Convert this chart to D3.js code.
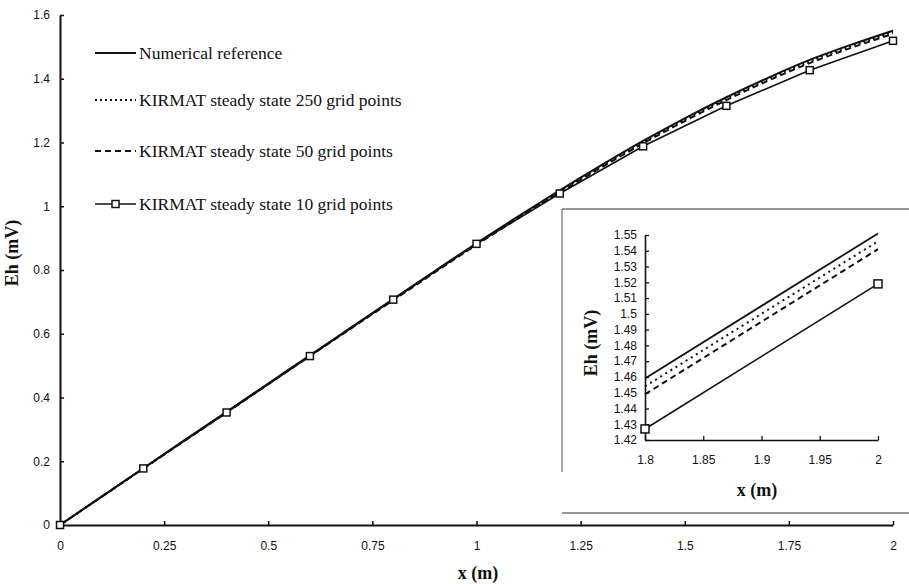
<!DOCTYPE html>
<html>
<head>
<meta charset="utf-8">
<script src="https://cdn.jsdelivr.net/npm/d3@7"></script>
<style>
body { margin: 0; background: #fff; }
svg { display: block; }
.tick text { font-family: "Liberation Sans", Arial, sans-serif; font-size: 12px; fill: #111; }
.title { font-family: "Liberation Serif", "Times New Roman", serif; font-weight: bold; font-size: 18px; fill: #111; }
.legend text { font-family: "Liberation Serif", "Times New Roman", serif; font-size: 17.5px; fill: #111; }
</style>
</head>
<body>
<script>
// main chart data
var xRef = [0, 0.1, 0.2, 0.3, 0.4, 0.5, 0.6, 0.7, 0.8, 0.9, 1.0, 1.1, 1.2, 1.3, 1.4, 1.5, 1.6, 1.7, 1.8, 1.9, 2.0];
var numRef = [0, 0.089, 0.178, 0.267, 0.355, 0.444, 0.532, 0.621, 0.709, 0.797, 0.884, 0.968, 1.050, 1.129, 1.205, 1.276, 1.342, 1.403, 1.459, 1.507, 1.551];
var xGrid = [0, 0.2, 0.4, 0.6, 0.8, 1.0, 1.2, 1.4, 1.6, 1.8, 2.0];
var grid250 = [0, 0.177, 0.354, 0.531, 0.707, 0.881, 1.047, 1.201, 1.338, 1.454, 1.546];
var grid50 = [0, 0.177, 0.353, 0.530, 0.705, 0.879, 1.043, 1.197, 1.333, 1.449, 1.541];
var grid10 = [0, 0.1775, 0.353, 0.530, 0.707, 0.882, 1.040, 1.188, 1.315, 1.427, 1.519];

// inset (zoom on 1.8 - 2)
var insetX = [1.8, 2.0];
var insetRef = [1.459, 1.551];
var inset250 = [1.454, 1.546];
var inset50 = [1.449, 1.541];
var inset10 = [1.427, 1.519];

var xTicks = [0, 0.25, 0.5, 0.75, 1, 1.25, 1.5, 1.75, 2];
var yTicks = [0, 0.2, 0.4, 0.6, 0.8, 1, 1.2, 1.4, 1.6];
var insetXTicks = [1.8, 1.85, 1.9, 1.95, 2];
var insetYTicks = [1.42, 1.43, 1.44, 1.45, 1.46, 1.47, 1.48, 1.49, 1.5, 1.51, 1.52, 1.53, 1.54, 1.55];

var legendNames = ["Numerical reference", "KIRMAT steady state 250 grid points",
  "KIRMAT steady state 50 grid points", "KIRMAT steady state 10 grid points"];

var W = 909, H = 584;
var svg = d3.select("body").append("svg").attr("width", W).attr("height", H);

var x = d3.scaleLinear().domain([0, 2]).range([60, 893]);
var y = d3.scaleLinear().domain([0, 1.6]).range([525, 15]);

function zip(xs, ys) { return xs.map(function(v, i) { return [v, ys[i]]; }); }

// axes
var xAxis = svg.append("g").attr("transform", "translate(0,525)")
  .call(d3.axisBottom(x).tickValues(xTicks).tickSizeInner(-4).tickSizeOuter(0).tickPadding(16)
    .tickFormat(function(d) { return String(d); }));
var yAxis = svg.append("g").attr("transform", "translate(60,0)")
  .call(d3.axisLeft(y).tickValues(yTicks).tickSizeInner(-4).tickSizeOuter(0).tickPadding(10)
    .tickFormat(function(d) { return String(d); }));
[xAxis, yAxis].forEach(function(a) {
  a.select(".domain").attr("stroke", "#111").attr("stroke-width", 2);
  a.selectAll(".tick line").attr("stroke", "#111").attr("stroke-width", 1.5);
});

svg.append("text").attr("class", "title").attr("x", 478).attr("y", 579)
  .attr("text-anchor", "middle").text("x (m)");
svg.append("text").attr("class", "title")
  .attr("transform", "translate(18,253) rotate(-90)")
  .attr("text-anchor", "middle").text("Eh (mV)");

// lines
var line = d3.line().x(function(d) { return x(d[0]); }).y(function(d) { return y(d[1]); })
  .curve(d3.curveMonotoneX);
var line10 = d3.line().x(function(d) { return x(d[0]); }).y(function(d) { return y(d[1]); });

var styles = [
  { dash: null, w: 2 },
  { dash: "2,3", w: 2 },
  { dash: "6,4", w: 2 },
  { dash: null, w: 1.6 }
];

svg.append("path").datum(zip(xRef, numRef)).attr("d", line)
  .attr("fill", "none").attr("stroke", "#111").attr("stroke-width", 2);
svg.append("path").datum(zip(xGrid, grid250)).attr("d", line)
  .attr("fill", "none").attr("stroke", "#111").attr("stroke-width", 2).attr("stroke-dasharray", "2,3");
svg.append("path").datum(zip(xGrid, grid50)).attr("d", line)
  .attr("fill", "none").attr("stroke", "#111").attr("stroke-width", 2).attr("stroke-dasharray", "6,4");
svg.append("path").datum(zip(xGrid, grid10)).attr("d", line10)
  .attr("fill", "none").attr("stroke", "#111").attr("stroke-width", 1.6);
svg.selectAll("rect.m10").data(zip(xGrid, grid10)).enter().append("rect")
  .attr("class", "m10")
  .attr("x", function(d) { return x(d[0]) - 3.5; }).attr("y", function(d) { return y(d[1]) - 3.5; })
  .attr("width", 7).attr("height", 7)
  .attr("fill", "#fff").attr("stroke", "#111").attr("stroke-width", 1.5);

// legend
var legY = [53, 100, 151, 204];
var leg = svg.append("g").attr("class", "legend");
legendNames.forEach(function(name, i) {
  var g = leg.append("g").attr("transform", "translate(0," + legY[i] + ")");
  g.append("line").attr("x1", 95).attr("x2", 136).attr("y1", 0).attr("y2", 0)
    .attr("stroke", "#111").attr("stroke-width", styles[i].w)
    .attr("stroke-dasharray", styles[i].dash);
  if (i === 3) {
    g.append("rect").attr("x", 112).attr("y", -3.5).attr("width", 7).attr("height", 7)
      .attr("fill", "#fff").attr("stroke", "#111").attr("stroke-width", 1.5);
  }
  g.append("text").attr("x", 139).attr("y", 5.5).text(name);
});

// inset frame
var inset = svg.append("g");
inset.append("rect").attr("x", 562).attr("y", 209).attr("width", W - 562).attr("height", 304)
  .attr("fill", "#fff");
inset.append("line").attr("x1", 562).attr("x2", W).attr("y1", 209).attr("y2", 209)
  .attr("stroke", "#333").attr("stroke-width", 1.2);
inset.append("line").attr("x1", 562).attr("x2", W).attr("y1", 513).attr("y2", 513)
  .attr("stroke", "#333").attr("stroke-width", 1.2);
inset.append("line").attr("x1", 562).attr("x2", 562).attr("y1", 209).attr("y2", 472)
  .attr("stroke", "#555").attr("stroke-width", 1);

var ix = d3.scaleLinear().domain([1.8, 2]).range([645, 878]);
var iy = d3.scaleLinear().domain([1.42, 1.55]).range([440, 235]);

var ixAxis = inset.append("g").attr("transform", "translate(0,440)")
  .call(d3.axisBottom(ix).tickValues(insetXTicks).tickSizeInner(-4).tickSizeOuter(0).tickPadding(15)
    .tickFormat(function(d) { return String(d); }));
var iyAxis = inset.append("g").attr("transform", "translate(645,0)")
  .call(d3.axisLeft(iy).tickValues(insetYTicks).tickSizeInner(-4).tickSizeOuter(0).tickPadding(8)
    .tickFormat(function(d) { return String(+d.toFixed(2)); }));
[ixAxis, iyAxis].forEach(function(a) {
  a.select(".domain").attr("stroke", "#111").attr("stroke-width", 1.6);
  a.selectAll(".tick line").attr("stroke", "#111").attr("stroke-width", 1.3);
});

inset.append("text").attr("class", "title").attr("x", 757).attr("y", 496)
  .attr("text-anchor", "middle").text("x (m)");
inset.append("text").attr("class", "title")
  .attr("transform", "translate(597,343) rotate(-90)")
  .attr("text-anchor", "middle").text("Eh (mV)");

var iline = d3.line().x(function(d) { return ix(d[0]); }).y(function(d) { return iy(d[1]); });
inset.append("path").datum(zip(insetX, insetRef)).attr("d", iline)
  .attr("fill", "none").attr("stroke", "#111").attr("stroke-width", 1.8);
inset.append("path").datum(zip(insetX, inset250)).attr("d", iline)
  .attr("fill", "none").attr("stroke", "#111").attr("stroke-width", 2).attr("stroke-dasharray", "2,4");
inset.append("path").datum(zip(insetX, inset50)).attr("d", iline)
  .attr("fill", "none").attr("stroke", "#111").attr("stroke-width", 2).attr("stroke-dasharray", "6,4");
inset.append("path").datum(zip(insetX, inset10)).attr("d", iline)
  .attr("fill", "none").attr("stroke", "#111").attr("stroke-width", 1.6);
inset.selectAll("rect.i10").data(zip(insetX, inset10)).enter().append("rect")
  .attr("class", "i10")
  .attr("x", function(d) { return ix(d[0]) - 4; }).attr("y", function(d) { return iy(d[1]) - 4; })
  .attr("width", 8).attr("height", 8)
  .attr("fill", "#fff").attr("stroke", "#111").attr("stroke-width", 1.5);
</script>
</body>
</html>
